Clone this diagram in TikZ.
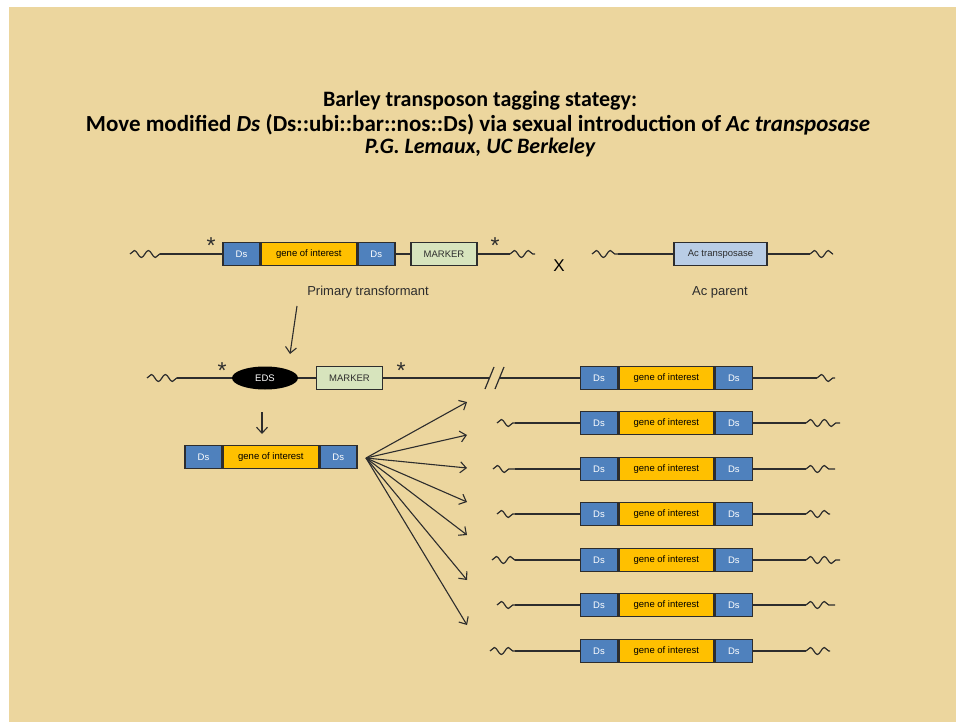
\documentclass[tikz,border=0pt]{standalone}
\usepackage{fontspec}
\setmainfont{Carlito}
\newfontfamily\boxfont{Liberation Sans}
\usetikzlibrary{shapes,positioning,arrows.meta,decorations.pathmorphing}
\definecolor{papyrus}{RGB}{236,214,158}
\definecolor{dsblue}{RGB}{79,129,189}
\definecolor{goiyellow}{RGB}{255,192,0}
\definecolor{markergreen}{RGB}{215,228,189}
\definecolor{acblue}{RGB}{185,205,229}
\definecolor{ink}{RGB}{45,45,45}
\tikzstyle{ds}=[rectangle,
	line width=1.4pt,
	minimum width=37pt,
	minimum height=23pt,
	inner sep=0pt,
	draw=ink,
	fill=dsblue,
	text=white,
	font=\boxfont\fontsize{9.5}{10}\selectfont]
\tikzstyle{gene}=[rectangle,
	line width=1.4pt,
	minimum width=95pt,
	minimum height=23pt,
	inner sep=0pt,
	draw=ink,
	fill=goiyellow,
	text=black,
	font=\boxfont\fontsize{9.5}{10}\selectfont]
\tikzstyle{marker}=[rectangle,
	line width=1.4pt,
	minimum width=66pt,
	minimum height=23pt,
	inner sep=0pt,
	draw=ink,
	fill=markergreen,
	text=ink,
	font=\boxfont\fontsize{9.5}{10}\selectfont]
\tikzstyle{acbox}=[rectangle,
	line width=1.4pt,
	minimum width=93pt,
	minimum height=23pt,
	inner sep=0pt,
	draw=ink,
	fill=acblue,
	text=ink,
	font=\boxfont\fontsize{9.5}{10}\selectfont]
\tikzstyle{eds}=[ellipse,
	minimum width=66pt,
	minimum height=23pt,
	inner sep=0pt,
	fill=black,
	text=white,
	font=\boxfont\fontsize{9.5}{10}\selectfont]
\tikzstyle{chrom}=[line width=1.2pt,
	draw=ink]
\tikzstyle{wiggle}=[chrom,
	decorate,
	decoration={snake, segment length=14pt, amplitude=3.5pt}]
\tikzstyle{asterisk}=[inner sep=0pt,
	text=ink,
	font=\boxfont\fontsize{23}{23}\selectfont]
\tikzstyle{caption}=[text=ink,
	font=\boxfont\fontsize{13}{15}\selectfont]
\tikzstyle{pointer}=[line width=1.1pt,
	draw=ink,
	-{Straight Barb[length=6pt,width=11pt]}]
\begin{document}
\begin{tikzpicture}[x=1pt,y=-1pt]
	\useasboundingbox (0,0) rectangle (956,722);
	\fill[white] (0,0) rectangle (956,722);
	\fill[papyrus] (9,7) rectangle (956,722);

	\node (title1) at (480,101) {\fontsize{22}{24}\selectfont\bfseries Barley transposon tagging stategy:};
	\node (title2) at (478,125) {\fontsize{23}{24}\selectfont\bfseries Move modified \textit{Ds} (Ds::ubi::bar::nos::Ds) via sexual introduction of \textit{Ac transposase}};
	\node (title3) at (480,148) {\fontsize{22}{24}\selectfont\bfseries\itshape P.G. Lemaux, UC Berkeley};

	\coordinate (t0) at (130,254);
	\coordinate (t1) at (160,254);
	\node (tds1) [ds] at (241.5,254) {Ds};
	\node (tgene) [gene, right=0pt of tds1] {gene of interest};
	\node (tds2) [ds, right=0pt of tgene] {Ds};
	\node (tmarker) [marker] at (444,254) {MARKER};
	\coordinate (t2) at (510,254);
	\coordinate (t3) at (535,254);
	\draw[wiggle] (t0) -- (t1);
	\draw[chrom] (t1) -- (tds1) (tds2) -- (tmarker) (tmarker) -- (t2);
	\draw[wiggle] (t2) -- (t3);
	\node (tstar1) [asterisk] at (211,246) {*};
	\node (tstar2) [asterisk] at (495,246) {*};
	\node (primary) [caption] at (368,292) {Primary transformant};

	\node (cross) at (559,266) {\boxfont\fontsize{17}{17}\selectfont X};

	\coordinate (a0) at (592,254);
	\coordinate (a1) at (618,254);
	\node (transposase) [acbox] at (720.5,254) {Ac transposase};
	\coordinate (a2) at (810,254);
	\coordinate (a3) at (833,254);
	\draw[wiggle] (a0) -- (a1);
	\draw[chrom] (a1) -- (transposase) -- (a2);
	\draw[wiggle] (a2) -- (a3);
	\node (acparent) [caption] at (720,292) {Ac parent};

	\coordinate (p0) at (297,306);
	\coordinate (p1) at (290,354);
	\draw[pointer] (p0) -- (p1);

	\coordinate (m0) at (147,378);
	\coordinate (m1) at (177,378);
	\node (excised) [eds] at (265,378) {EDS};
	\node (mmarker) [marker] at (349.5,378) {MARKER};
	\coordinate (m2) at (490,378);
	\coordinate (m3) at (499,378);
	\draw[wiggle] (m0) -- (m1);
	\draw[chrom] (m1) -- (excised) -- (mmarker) -- (m2);
	\draw[chrom] (485,389) -- (494,367) (495,389) -- (504,367);
	\node (mstar1) [asterisk] at (222,371) {*};
	\node (mstar2) [asterisk] at (401,371) {*};

	\node (rds1) [ds] at (599,378) {Ds};
	\node (rgene) [gene, right=0pt of rds1] {gene of interest};
	\node (rds2) [ds, right=0pt of rgene] {Ds};
	\coordinate (r2) at (817,378);
	\coordinate (r3) at (835,378);
	\draw[chrom] (m3) -- (rds1) (rds2) -- (r2);
	\draw[wiggle] (r2) -- (r3);

	\coordinate (d0) at (262,412);
	\coordinate (d1) at (262,434);
	\draw[pointer] (d0) -- (d1);

	\node (lds1) [ds] at (203.5,457) {Ds};
	\node (lgene) [gene, right=0pt of lds1] {gene of interest};
	\node (lds2) [ds, right=0pt of lgene] {Ds};

	\coordinate (fan) at (366,458);
	\foreach \t [count=\i] in {402,435,468,502,535,580,625} {
		\coordinate (tip\i) at (467,\t);
		\draw[pointer] (fan) -- (tip\i);
	}

	\foreach \y/\l/\r [count=\i] in {423/497/840, 469/493/835, 514/497/830, 560/492/840, 605/497/835, 651/490/830} {
		\coordinate (in\i) at (\l,\y);
		\coordinate (inb\i) at (515,\y);
		\node (ds\i a) [ds] at (599,\y) {Ds};
		\node (gene\i) [gene, right=0pt of ds\i a] {gene of interest};
		\node (ds\i b) [ds, right=0pt of gene\i] {Ds};
		\coordinate (outb\i) at (806,\y);
		\coordinate (out\i) at (\r,\y);
		\draw[wiggle] (in\i) -- (inb\i);
		\draw[chrom] (inb\i) -- (ds\i a) (ds\i b) -- (outb\i);
		\draw[wiggle] (outb\i) -- (out\i);
	}
\end{tikzpicture}
\end{document}
